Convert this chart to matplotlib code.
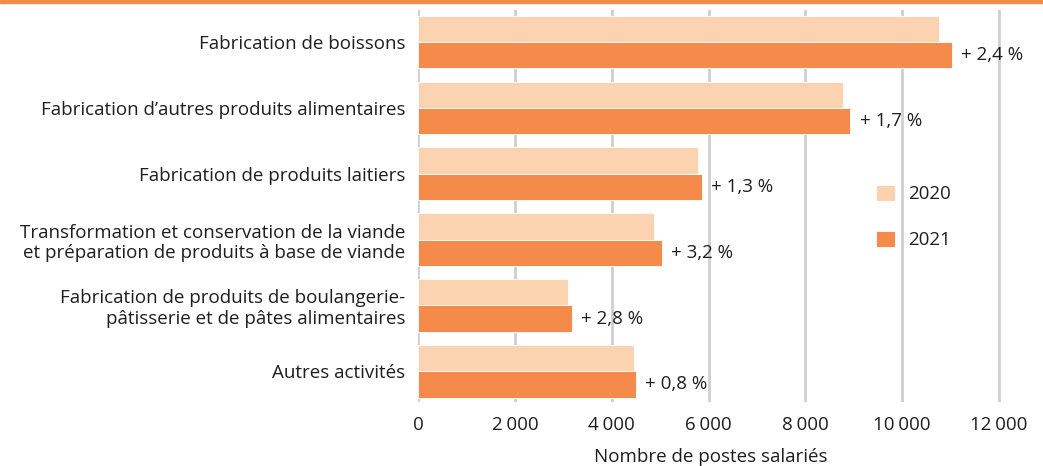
import matplotlib
matplotlib.use("Agg")
import matplotlib.pyplot as plt
import numpy as np
from matplotlib.ticker import FuncFormatter
from matplotlib.patches import Rectangle

plt.rcParams['font.family'] = ['Open Sans', 'DejaVu Sans']

# data
categories = [
    "Fabrication de boissons",
    "Fabrication d\u2019autres produits alimentaires",
    "Fabrication de produits laitiers",
    "Transformation et conservation de la viande\net pr\u00e9paration de produits \u00e0 base de viande",
    "Fabrication de produits de boulangerie-\np\u00e2tisserie et de p\u00e2tes alimentaires",
    "Autres activit\u00e9s",
]
postes_2020 = [10770, 8780, 5790, 4880, 3090, 4470]
postes_2021 = [11020, 8930, 5865, 5035, 3175, 4505]
evolution = ["+ 2,4 %", "+ 1,7 %", "+ 1,3 %", "+ 3,2 %", "+ 2,8 %", "+ 0,8 %"]

COL_2020 = '#FBD3B1'
COL_2021 = '#F58B4A'
TEXT = '#1E1E1E'
GRID = '#CFCFCF'
FS = 13.5

fig = plt.figure(figsize=(10.43, 4.66), dpi=100)
# axes slightly wider than 12 000 so the last gridline is not clipped
ax = fig.add_axes([418 / 1043, 1 - 402 / 466, (1003 - 418) / 1043, (402 - 10) / 466])

y = np.arange(len(categories))
h = 0.398
ax.barh(y - h / 2, postes_2020, height=h, color=COL_2020, label='2020',
        edgecolor='white', linewidth=0.6, zorder=3)
ax.barh(y + h / 2, postes_2021, height=h, color=COL_2021, label='2021',
        edgecolor='white', linewidth=0.6, zorder=3)

for yi, val, lab in zip(y, postes_2021, evolution):
    ax.text(val + 190, yi + h / 2, lab, va='center', ha='left',
            fontsize=FS, color=TEXT)

ax.set_xlim(0, 12000 * (1003 - 418) / (999 - 418))
ax.set_ylim(len(categories) - 0.534, -0.484)
ax.set_xticks(np.arange(0, 12001, 2000))
ax.xaxis.set_major_formatter(
    FuncFormatter(lambda v, p: '{:,.0f}'.format(v).replace(',', '\u202f')))
ax.set_yticks(y)
ax.set_yticklabels(categories, fontsize=FS, color=TEXT)
ax.tick_params(axis='y', length=0, pad=9)
ax.tick_params(axis='x', length=0, pad=10, labelsize=FS, labelcolor=TEXT)
ax.grid(axis='x', color=GRID, linewidth=2, zorder=0)
for s in ax.spines.values():
    s.set_visible(False)
ax.set_xlabel('Nombre de postes salari\u00e9s', fontsize=FS, color=TEXT, labelpad=10)

fig.legend(loc='center left', bbox_to_anchor=(859 / 1043, 1 - 217 / 466),
           frameon=False, fontsize=FS, labelspacing=1.45,
           handlelength=1.0, handleheight=0.95, handletextpad=0.7,
           labelcolor=TEXT)

# orange rule on top of the figure
fig.add_artist(Rectangle((0, 1 - 3 / 466), 1, 3 / 466, transform=fig.transFigure,
                         color='#F58B4A', zorder=10))

fig.savefig('out.png', dpi=100, facecolor='white')
